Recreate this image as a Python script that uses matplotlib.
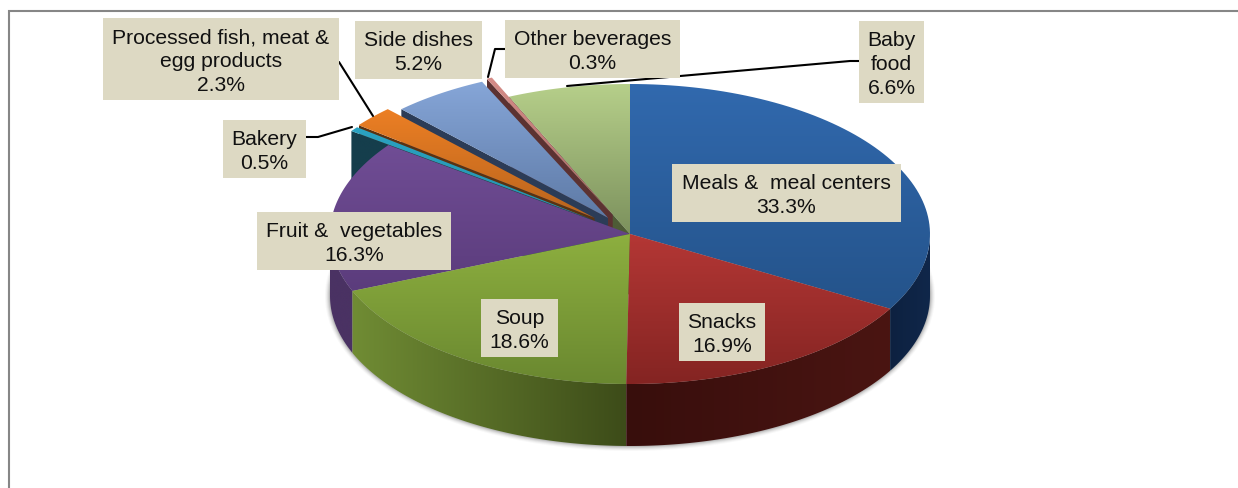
"""3D-looking exploded pie of product shares, drawn from wedges in pixel coordinates."""
import numpy as np
import matplotlib
matplotlib.use("Agg")
import matplotlib.pyplot as plt
from matplotlib.patches import Polygon, Rectangle, Ellipse

plt.rcParams["font.family"] = ["Liberation Sans", "DejaVu Sans"]

# clockwise from 12 o'clock
categories = ["Meals &  meal centers", "Snacks", "Soup", "Fruit &  vegetables", "Bakery",
              "Processed fish, meat &\negg products", "Side dishes", "Other beverages", "Baby\nfood"]
shares = [33.3, 16.9, 18.6, 16.3, 0.5, 2.3, 5.2, 0.3, 6.6]

W, H = 1238, 489
CX, CY, RX, RY, DEPTH = 630, 235, 300, 150, 62
EXPLODE = {4: 0.155, 5: 0.16, 6: 0.13, 7: 0.14}

# top gradient (upper, lower), wall gradient (left, right), cut face
TOP = [("#3169AE", "#24538A"), ("#B43735", "#842422"), ("#8DAF3F", "#6A8830"),
       ("#704D95", "#5B3C7C"), ("#2BA3C2", "#2492AE"), ("#EC7F24", "#B9641D"),
       ("#86A6D8", "#5E7AA6"), ("#D68C88", "#A86A68"), ("#B6CF8A", "#7C915D")]
WALL = [("#0D2140", "#10274A"), ("#380E0C", "#4A1512"), ("#708C34", "#3D4C19"),
        ("#4A3263", "#4A3263"), ("#153E4C", "#153E4C"), ("#5A3212", "#5A3212"),
        ("#2C3C57", "#2C3C57"), ("#5C3232", "#5C3232"), ("#4E5C36", "#4E5C36")]
DRAW_ORDER = [8, 7, 6, 5, 4, 3, 0, 2, 1]

# label boxes x0, y0, x1, y1 in the order of categories
BOXES = [(672, 165, 901, 223), (679, 304, 765, 362), (481, 300, 558, 358), (257, 213, 451, 271),
         (223, 121, 306, 179), (103, 19, 339, 101), (355, 22, 482, 80), (505, 21, 680, 79),
         (859, 22, 924, 104)]
LEADERS = [[(306, 138), (318, 138), (352, 128)],
           [(339, 63), (373, 117)],
           [(859, 62), (850, 62), (567, 87)],
           [(488, 78), (495, 50), (505, 50)]]


def rgb(c):
    return np.array(matplotlib.colors.to_rgb(c))


def arc(t0, t1, cx, cy, n=80):
    t = np.radians(np.linspace(t0, t1, n))
    return np.column_stack([cx + RX * np.sin(t), cy - RY * np.cos(t)])


zo = [10]


def shaded(ax, pts, c0, c1, vertical=True):
    """Fill a polygon with a linear gradient between c0 and c1."""
    pts = np.asarray(pts)
    x0, y0 = pts.min(axis=0)
    x1, y1 = pts.max(axis=0)
    if x1 - x0 < 1e-6 or y1 - y0 < 1e-6:
        return
    f = np.linspace(0, 1, 128)[:, None]
    grad = rgb(c0)[None, :] * (1 - f) + rgb(c1)[None, :] * f
    img = grad[:, None, :] if vertical else grad[None, :, :]
    poly = Polygon(pts, closed=True, transform=ax.transData, fc="none", ec="none")
    ax.add_patch(poly)
    im = ax.imshow(img, extent=(x0, x1, y1, y0), aspect="auto", interpolation="bilinear", zorder=zo[0])
    im.set_clip_path(poly)
    zo[0] += 1


fig = plt.figure(figsize=(W / 100, H / 100), dpi=100)
ax = fig.add_axes([0, 0, 1, 1])

# soft shadow under the front rim
for k, a in zip([5, 4, 3, 2, 1], [0.04, 0.06, 0.09, 0.12, 0.18]):
    ax.add_patch(Ellipse((CX, CY + DEPTH), 2 * (RX + k), 2 * (RY + k), fc="#555555", ec="none", alpha=a, zorder=1))

edges = np.cumsum([0] + shares) / sum(shares) * 360
for i in DRAW_ORDER:
    t0, t1 = edges[i], edges[i + 1]
    mid = np.radians((t0 + t1) / 2)
    e = EXPLODE.get(i, 0)
    cx = CX + RX * e * np.sin(mid)
    cy = CY - RY * e * np.cos(mid)
    rim = arc(t0, t1, cx, cy)
    down = np.array([0, DEPTH])

    # cut face on the counter-clockwise side, seen in the back half
    if t0 > 270:
        a = np.array([cx, cy])
        face = np.array([a, rim[0], rim[0] + down, a + down])
        shaded(ax, face, WALL[i][0], WALL[i][1])

    # outer wall, front half only
    w0, w1 = max(t0, 90), min(t1, 270)
    if w1 > w0:
        front = arc(w0, w1, cx, cy)
        shaded(ax, np.vstack([front, front[::-1] + down]), WALL[i][0], WALL[i][1], vertical=False)

    shaded(ax, np.vstack([[cx, cy], rim]), TOP[i][0], TOP[i][1])

for pts in LEADERS:
    xs, ys = zip(*pts)
    ax.plot(xs, ys, color="black", lw=1.5, zorder=500, solid_capstyle="round")

for name, val, (x0, y0, x1, y1) in zip(categories, shares, BOXES):
    ax.add_patch(Rectangle((x0, y0), x1 - x0, y1 - y0, fc="#DDD9C3", ec="none", zorder=600))
    ax.text((x0 + x1) / 2, (y0 + y1) / 2 + 1.5, f"{name}\n{val:.1f}%", ha="center", va="center",
            fontsize=15.2, linespacing=1.32, color="#111111", zorder=610)

# chart frame, left and top only reach the picture
ax.plot([9, 9, W], [H, 12, 12], color="#868686", lw=1.5, zorder=700, solid_joinstyle="miter")

ax.set_xlim(0, W)
ax.set_ylim(H, 0)
ax.axis("off")
fig.savefig("out.png", dpi=100)
